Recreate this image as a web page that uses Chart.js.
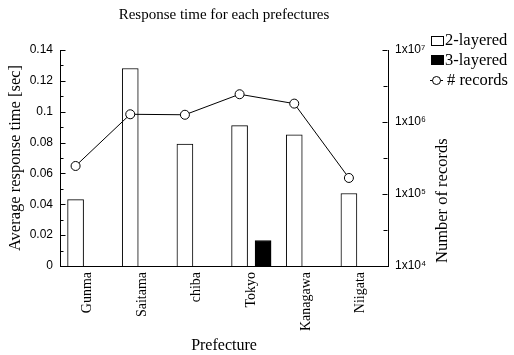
<!DOCTYPE html>
<html>
<head>
<meta charset="utf-8">
<script src="https://cdn.jsdelivr.net/npm/chart.js@4.4.1/dist/chart.umd.min.js"></script>
<style>
  html, body { margin: 0; padding: 0; background: #fff; }
  #wrap { width: 514px; height: 355px; position: relative; }
</style>
</head>
<body>
<div id="wrap"><canvas id="c" width="514" height="355"></canvas></div>
<script>
// ---- data ----
const categories = ['Gunma', 'Saitama', 'chiba', 'Tokyo', 'Kanagawa', 'Niigata'];
const twoLayered = [0.043, 0.128, 0.079, 0.091, 0.085, 0.047];
const threeLayered = [null, null, null, 0.0165, null, null];
const records = [2.45e5, 1.28e6, 1.26e6, 2.43e6, 1.80e6, 1.67e5];
const leftTicks = [0, 0.01, 0.02, 0.03, 0.04, 0.05, 0.06, 0.07, 0.08, 0.09, 0.10, 0.11, 0.12, 0.13, 0.14];
const rightTicks = [1e4, 3.1623e4, 1e5, 3.1623e5, 1e6, 3.1623e6, 1e7];
const seriesLabels = ['2-layered', '3-layered', '# records'];
const titleText = 'Response time for each prefectures';
const leftTitle = 'Average response time [sec]';
const rightTitle = 'Number of records';
const xTitle = 'Prefecture';

const SERIF = '"Liberation Serif", "Times New Roman", serif';
const SANS = '"Liberation Sans", Arial, sans-serif';
const GROUP_OFFSET = 0.215;   // half the distance between the two bars of a group, in category units
const BAR_THICKNESS = 16;

const sup = {'0':'⁰','1':'¹','2':'²','3':'³','4':'⁴','5':'⁵','6':'⁶','7':'⁷','8':'⁸','9':'⁹'};
function isMajorLog(v) { const l = Math.log10(v); return Math.abs(l - Math.round(l)) < 1e-6; }

const barData = (arr, shift) => arr.map((v, i) => (v === null ? null : { x: i + shift, y: v })).filter(p => p);

const inwardTicks = {
  id: 'inwardTicks',
  afterDraw(chart) {
    const ctx = chart.ctx;
    ctx.save();
    ctx.strokeStyle = '#000';
    ctx.lineWidth = 1;
    const y = chart.scales.y, y1 = chart.scales.y1;
    const L = Math.round(chart.chartArea.left) + 0.5;
    const R = Math.round(chart.chartArea.right) - 0.5;
    y.ticks.forEach(t => {
      const p = Math.round(y.getPixelForValue(t.value)) + 0.5;
      const major = Math.round(t.value * 100) % 2 === 0;
      ctx.beginPath(); ctx.moveTo(L, p); ctx.lineTo(L + (major ? 5 : 3), p); ctx.stroke();
    });
    y1.ticks.forEach(t => {
      const p = Math.round(y1.getPixelForValue(t.value)) + 0.5;
      const major = isMajorLog(t.value);
      ctx.beginPath(); ctx.moveTo(R, p); ctx.lineTo(R - (major ? 5 : 4), p); ctx.stroke();
    });
    // right axis title, reading bottom-to-top, starting at axis bottom
    ctx.fillStyle = '#000';
    ctx.font = '16.5px ' + SERIF;
    ctx.translate(443, chart.chartArea.bottom - 3);
    ctx.rotate(-Math.PI / 2);
    ctx.textAlign = 'left';
    ctx.textBaseline = 'middle';
    ctx.fillText(rightTitle, 0, 0);
    ctx.restore();

    // legend
    ctx.save();
    ctx.lineWidth = 1;
    ctx.strokeStyle = '#000';
    ctx.fillStyle = '#000';
    ctx.font = '16.5px ' + SERIF;
    ctx.textBaseline = 'middle';
    ctx.textAlign = 'left';
    ctx.fillStyle = '#fff';
    ctx.fillRect(431, 36, 12, 9);
    ctx.strokeRect(431.5, 36.5, 12, 9);
    ctx.fillStyle = '#000';
    ctx.fillText(seriesLabels[0], 445, 41);
    ctx.fillRect(431, 55, 13, 10);
    ctx.fillText(seriesLabels[1], 445, 60.5);
    ctx.beginPath(); ctx.moveTo(430, 80.5); ctx.lineTo(443, 80.5); ctx.stroke();
    ctx.beginPath(); ctx.arc(436.5, 80.5, 4, 0, Math.PI * 2);
    ctx.fillStyle = '#fff'; ctx.fill(); ctx.stroke();
    ctx.fillStyle = '#000';
    ctx.fillText(seriesLabels[2], 447, 80.5);
    ctx.restore();
  }
};

Chart.defaults.color = '#000';
Chart.defaults.font.family = SERIF;

new Chart(document.getElementById('c'), {
  type: 'bar',
  data: {
    datasets: [
      { label: seriesLabels[0], data: barData(twoLayered, -GROUP_OFFSET), backgroundColor: '#fff', borderColor: '#000', borderWidth: 1,
        grouped: false, barThickness: BAR_THICKNESS, order: 1 },
      { label: seriesLabels[1], data: barData(threeLayered, GROUP_OFFSET), backgroundColor: '#000', borderColor: '#000', borderWidth: 1,
        grouped: false, barThickness: BAR_THICKNESS, order: 1 },
      { type: 'line', label: seriesLabels[2], data: records.map((v, i) => ({ x: i - GROUP_OFFSET, y: v })),
        borderColor: '#000', borderWidth: 1, tension: 0, fill: false,
        pointRadius: 4.5, pointBackgroundColor: '#fff', pointBorderColor: '#000', pointBorderWidth: 1,
        order: 0, yAxisID: 'y1' }
    ]
  },
  options: {
    responsive: false,
    animation: false,
    devicePixelRatio: 1,
    layout: { padding: 0 },
    plugins: {
      legend: { display: false },
      tooltip: { enabled: false },
      title: { display: true, text: titleText, fullSize: false, color: '#000',
               font: { family: SERIF, size: 15, weight: 'normal' }, padding: { top: 6, bottom: 26 } }
    },
    scales: {
      x: {
        type: 'linear', position: 'bottom', min: -0.5, max: 5.5, offset: false,
        grid: { display: false, drawTicks: false, tickLength: 0 },
        border: { display: true, color: '#000', width: 1 },
        afterBuildTicks(s) { s.ticks = categories.map((c, i) => ({ value: i })); },
        ticks: { autoSkip: false, minRotation: 90, maxRotation: 90, padding: 6,
                 font: { family: SERIF, size: 14 }, color: '#000',
                 callback(v) { return categories[Math.round(v)]; } },
        title: { display: true, text: xTitle, font: { family: SERIF, size: 16 }, color: '#000', padding: { top: 0, bottom: 0 } },
        afterFit(s) { s.height = 89; }
      },
      y: {
        type: 'linear', position: 'left', min: 0, max: 0.14,
        grid: { display: false, drawTicks: false, tickLength: 0 },
        border: { display: true, color: '#000', width: 1 },
        afterBuildTicks(s) { s.ticks = leftTicks.map(v => ({ value: v })); },
        ticks: { autoSkip: false, padding: 7, font: { family: SANS, size: 12 }, color: '#000',
                 callback(v) { const k = Math.round(v * 100); return k % 2 === 0 ? String(k / 100) : ''; } },
        title: { display: true, text: leftTitle, font: { family: SERIF, size: 16.5 }, color: '#000', padding: { top: 6, bottom: 0 } },
        afterFit(s) { s.width = 60; }
      },
      y1: {
        type: 'logarithmic', position: 'right', min: 1e4, max: 1e7,
        grid: { display: false, drawTicks: false, tickLength: 0 },
        border: { display: true, color: '#000', width: 1 },
        afterBuildTicks(s) { s.ticks = rightTicks.map(v => ({ value: v })); },
        ticks: { autoSkip: false, padding: 7, font: { family: SANS, size: 12 }, color: '#000',
                 callback(v) {
                   if (!isMajorLog(v)) return '';
                   const e = String(Math.round(Math.log10(v)));
                   return '1x10' + e.split('').map(c => sup[c]).join('');
                 } },
        title: { display: false },
        afterFit(s) { s.width = 126; }
      }
    }
  },
  plugins: [inwardTicks]
});
</script>
</body>
</html>
